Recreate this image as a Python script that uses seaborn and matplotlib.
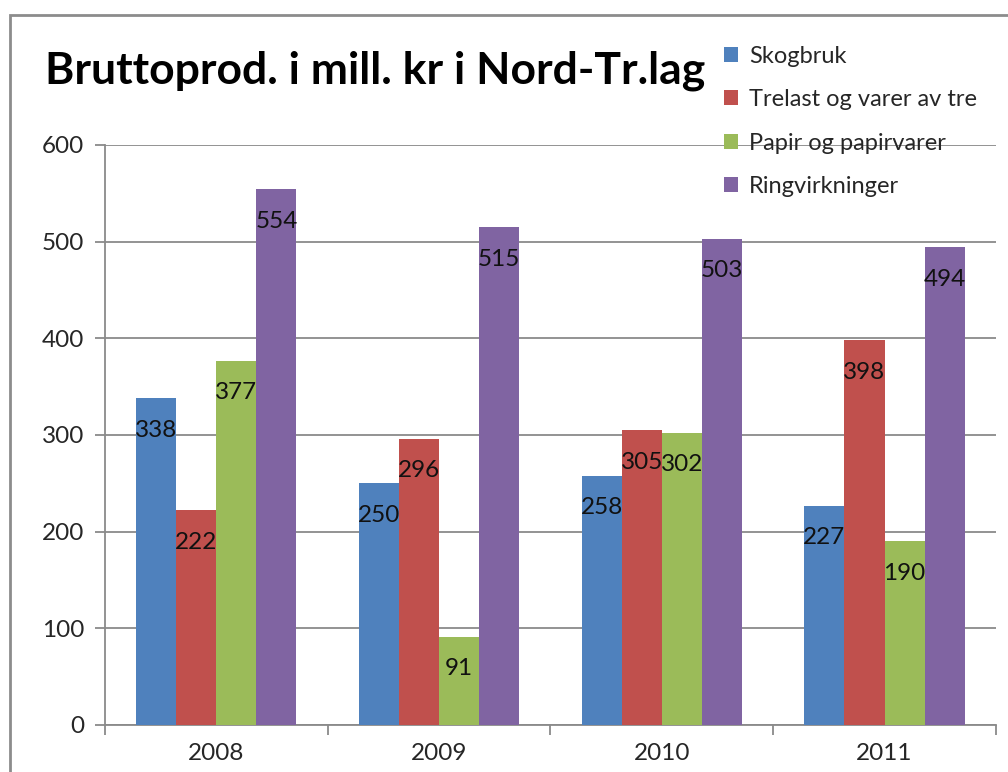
import pandas as pd
import numpy as np
import seaborn as sns
import matplotlib.pyplot as plt
from matplotlib.patches import Rectangle, Patch

# Data
years = ['2008', '2009', '2010', '2011']
series = ['Skogbruk', 'Trelast og varer av tre', 'Papir og papirvarer', 'Ringvirkninger']
skogbruk = [338, 250, 258, 227]
trelast = [222, 296, 305, 398]
papir = [377, 91, 302, 190]
ringvirkninger = [554, 515, 503, 494]
colors = ['#4F81BD', '#C0504D', '#9BBB59', '#8064A2']

df = pd.DataFrame({
    'year': years * 4,
    'serie': np.repeat(series, 4),
    'value': skogbruk + trelast + papir + ringvirkninger,
})

sns.set_style('white')
plt.rcParams['font.family'] = ['Lato', 'DejaVu Sans']

fig = plt.figure(figsize=(10.08, 7.72), dpi=100)
ax = fig.add_axes([0.104, 0.0609, 0.884, 0.7513])

sns.barplot(data=df, x='year', y='value', hue='serie', order=years, hue_order=series,
            palette=colors, width=0.72, gap=0, saturation=1, legend=False, ax=ax,
            zorder=3, linewidth=0)

# value labels inside the top of each bar
for cont in ax.containers:
    for bar in cont:
        h = bar.get_height()
        ax.annotate(f'{h:.0f}', xy=(bar.get_x() + bar.get_width() / 2, h),
                    xytext=(0, -23), textcoords='offset points',
                    ha='center', va='center', fontsize=17.5, color='#111111', zorder=5)

ax.set_ylim(0, 600)
ax.set_xlim(-0.5, 3.5)
ax.set_yticks(range(0, 601, 100))
ax.yaxis.grid(True, color='#8a8a8a', linewidth=1.3, zorder=0)
ax.set_axisbelow(True)
ax.set_xlabel('')
ax.set_ylabel('')

for s in ['top', 'right']:
    ax.spines[s].set_visible(False)
for s in ['left', 'bottom']:
    ax.spines[s].set_color('#8a8a8a')
    ax.spines[s].set_linewidth(1.3)

ax.tick_params(axis='y', which='major', direction='out', length=7, width=1.3,
               color='#8a8a8a', left=True, labelsize=17.5, pad=8)
ax.tick_params(axis='x', which='major', length=0, labelsize=17.5, pad=13)
ax.set_xticks(np.arange(-0.5, 3.6, 1), minor=True)
ax.tick_params(axis='x', which='minor', direction='out', length=7, width=1.3,
               color='#8a8a8a', bottom=True)

# title
fig.text(0.045, 0.908, 'Bruttoprod. i mill. kr i Nord-Tr.lag', fontsize=32,
         fontweight='bold', ha='left', va='center', color='black')

# legend
handles = [Patch(facecolor=c, edgecolor='none') for c in colors]
fig.legend(handles, series, loc='upper left', bbox_to_anchor=(0.709, 0.953),
           frameon=False, fontsize=17, handlelength=0.6, handleheight=0.6,
           handletextpad=0.45, labelspacing=0.95, borderaxespad=0)

# outer chart frame
fig.patches.append(Rectangle((10 / 1008, -0.1), 1.2, 1 - 15 / 772 + 0.1,
                             transform=fig.transFigure, fill=False,
                             edgecolor='#8c8c8c', linewidth=2))

fig.savefig('out.png', dpi=100)
